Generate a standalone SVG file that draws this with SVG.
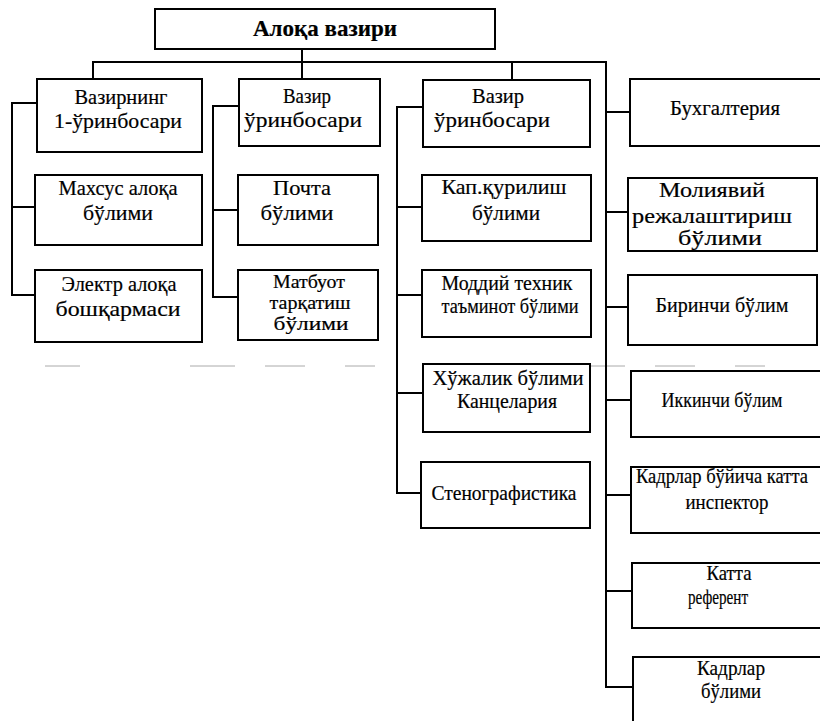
<svg xmlns="http://www.w3.org/2000/svg" width="820" height="721" viewBox="0 0 820 721">
<style>
.box{fill:#fff;stroke:#000;stroke-width:2}
.ln{fill:none;stroke:#000;stroke-width:2}
text{font-family:"Liberation Serif","Times New Roman",serif;font-size:21px;fill:#000;stroke:#000;stroke-width:0.2;text-anchor:middle}
.b{font-weight:bold;font-size:23px}
.s{font-size:19px}
</style>
<rect width="820" height="721" fill="#fff"/>
<line x1="45" y1="366" x2="820" y2="366" stroke="#aaa" stroke-width="1" stroke-dasharray="35,110,45,30,40,40,30,60"/>
<g id="connectors">
<path class="ln" d="M302 49V79M93 79V62H606V688M512 62V80"/>
<path class="ln" d="M606 112H630M606 212H628M606 307H628M606 400H631M606 495H631M606 591H632M606 687H633"/>
<path class="ln" d="M37 103H12V295H35M12 207H35"/>
<path class="ln" d="M239 106H213V297H238M213 210H238"/>
<path class="ln" d="M423 107H397V493H421M397 207H422M397 295H422M397 393H423"/>
</g>
<g id="n0"><rect class="box" x="155" y="9" width="340" height="40"/><text class="b" x="325" y="36" textLength="144" lengthAdjust="spacingAndGlyphs">Алоқа вазири</text></g>
<g id="n1"><rect class="box" x="37" y="79" width="165" height="73"/><text x="121" y="104" textLength="93" lengthAdjust="spacingAndGlyphs">Вазирнинг</text><text x="118" y="128" textLength="128" lengthAdjust="spacingAndGlyphs">1-ўринбосари</text></g>
<g id="n2"><rect class="box" x="239" y="79" width="141" height="67"/><text x="307" y="103" textLength="48" lengthAdjust="spacingAndGlyphs">Вазир</text><text x="303" y="127" textLength="118" lengthAdjust="spacingAndGlyphs">ўринбосари</text></g>
<g id="n3"><rect class="box" x="423" y="80" width="167" height="67"/><text x="498" y="103" textLength="52" lengthAdjust="spacingAndGlyphs">Вазир</text><text x="492" y="127" textLength="116" lengthAdjust="spacingAndGlyphs">ўринбосари</text></g>
<g id="n4"><rect class="box" x="630" y="79" width="195" height="67"/><text x="725" y="115" textLength="110" lengthAdjust="spacingAndGlyphs">Бухгалтерия</text></g>
<g id="n5"><rect class="box" x="35" y="175" width="167" height="70"/><text x="118" y="195" textLength="119" lengthAdjust="spacingAndGlyphs">Махсус алоқа</text><text x="118" y="220" textLength="70" lengthAdjust="spacingAndGlyphs">бўлими</text></g>
<g id="n6"><rect class="box" x="35" y="270" width="167" height="72"/><text x="119" y="291" textLength="115" lengthAdjust="spacingAndGlyphs">Электр алоқа</text><text x="118" y="316" textLength="125" lengthAdjust="spacingAndGlyphs">бошқармаси</text></g>
<g id="n7"><rect class="box" x="238" y="175" width="140" height="70"/><text x="302" y="195" textLength="58" lengthAdjust="spacingAndGlyphs">Почта</text><text x="297" y="220" textLength="73" lengthAdjust="spacingAndGlyphs">бўлими</text></g>
<g id="n8"><rect class="box" x="238" y="270" width="140" height="70"/><text class="s" x="309" y="288" textLength="72" lengthAdjust="spacingAndGlyphs">Матбуот</text><text class="s" x="310" y="309" textLength="81" lengthAdjust="spacingAndGlyphs">тарқатиш</text><text class="s" x="311" y="330" textLength="75" lengthAdjust="spacingAndGlyphs">бўлими</text></g>
<g id="n9"><rect class="box" x="422" y="175" width="169" height="66"/><text x="504" y="194" textLength="125" lengthAdjust="spacingAndGlyphs">Кап.қурилиш</text><text x="506" y="220" textLength="68" lengthAdjust="spacingAndGlyphs">бўлими</text></g>
<g id="n10"><rect class="box" x="422" y="270" width="169" height="67"/><text x="507" y="290" textLength="131" lengthAdjust="spacingAndGlyphs">Моддий техник</text><text x="510" y="313" textLength="137" lengthAdjust="spacingAndGlyphs">таъминот бўлими</text></g>
<g id="n11"><rect class="box" x="423" y="364" width="167" height="68"/><text x="508" y="385" textLength="151" lengthAdjust="spacingAndGlyphs">Хўжалик бўлими</text><text x="507" y="408" textLength="100" lengthAdjust="spacingAndGlyphs">Канцелария</text></g>
<g id="n12"><rect class="box" x="421" y="462" width="169" height="66"/><text x="504" y="500" textLength="145" lengthAdjust="spacingAndGlyphs">Стенографистика</text></g>
<g id="n13"><rect class="box" x="628" y="178" width="189" height="73"/><text x="712" y="197" textLength="106" lengthAdjust="spacingAndGlyphs">Молиявий</text><text x="712" y="223" textLength="160" lengthAdjust="spacingAndGlyphs">режалаштириш</text><text x="720" y="245" textLength="84" lengthAdjust="spacingAndGlyphs">бўлими</text></g>
<g id="n14"><rect class="box" x="628" y="275" width="189" height="70"/><text x="722" y="312" textLength="133" lengthAdjust="spacingAndGlyphs">Биринчи бўлим</text></g>
<g id="n15"><rect class="box" x="631" y="371" width="195" height="66"/><text x="722" y="407" textLength="121" lengthAdjust="spacingAndGlyphs">Иккинчи бўлим</text></g>
<g id="n16"><rect class="box" x="631" y="467" width="195" height="66"/><text x="722" y="483" textLength="172" lengthAdjust="spacingAndGlyphs">Кадрлар бўйича катта</text><text x="727" y="509" textLength="83" lengthAdjust="spacingAndGlyphs">инспектор</text></g>
<g id="n17"><rect class="box" x="632" y="563" width="195" height="65"/><text x="729" y="580" textLength="45" lengthAdjust="spacingAndGlyphs">Катта</text><text x="718" y="604" textLength="60" lengthAdjust="spacingAndGlyphs">референт</text></g>
<g id="n18"><rect class="box" x="633" y="657" width="195" height="80"/><text x="731" y="675" textLength="68" lengthAdjust="spacingAndGlyphs">Кадрлар</text><text x="731" y="698" textLength="60" lengthAdjust="spacingAndGlyphs">бўлими</text></g>
</svg>
